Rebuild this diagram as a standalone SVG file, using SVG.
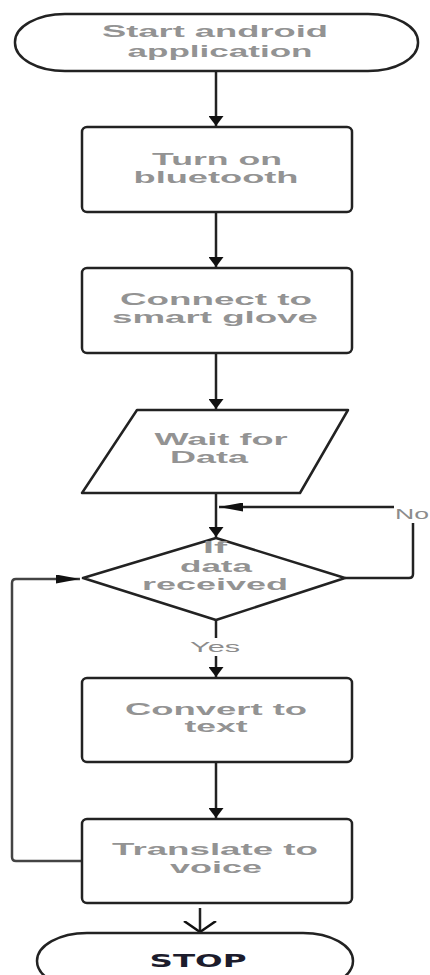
<svg xmlns="http://www.w3.org/2000/svg" width="430" height="975" viewBox="0 0 430 975">
  <style>
    .shape { fill: #ffffff; stroke: #222222; stroke-width: 2.5; stroke-linejoin: round; }
    .lbl { font-family: "Liberation Sans", Arial, sans-serif; font-size: 17px; font-weight: bold; fill: #939393; text-anchor: middle; }
    .edge { fill: none; stroke: #222222; stroke-width: 2.5; stroke-linejoin: round; }
    .loop { fill: none; stroke: #444444; stroke-width: 2.5; stroke-linejoin: round; }
    .elbl { font-family: "Liberation Sans", Arial, sans-serif; font-size: 14px; fill: #8c8c8c; text-anchor: middle; }
    .stop { font-family: "DejaVu Sans", "Liberation Sans", sans-serif; font-size: 18px; font-weight: bold; fill: #1c1c2c; text-anchor: middle; }
  </style>
  <defs>
    <marker id="ahV" markerUnits="userSpaceOnUse" viewBox="0 0 10 15" refX="10" refY="7.5" markerWidth="10" markerHeight="15" orient="auto">
      <path d="M0,0 L10,7.5 L0,15 Z" fill="#111111"/>
    </marker>
    <marker id="ahH" markerUnits="userSpaceOnUse" viewBox="0 0 24 9" refX="24" refY="4.5" markerWidth="24" markerHeight="9" orient="auto">
      <path d="M0,0 L24,4.5 L0,9 Z" fill="#111111"/>
    </marker>
    <marker id="ahOpen" markerUnits="userSpaceOnUse" viewBox="0 0 12 34" refX="11" refY="17" markerWidth="12" markerHeight="34" orient="auto">
      <path d="M0,1 L11,17 L0,33" fill="none" stroke="#111111" stroke-width="2.5"/>
    </marker>
  </defs>
  <rect width="430" height="975" fill="#ffffff"/>

  <g id="connectors">
    <line class="edge" x1="216" y1="71" x2="216" y2="126" marker-end="url(#ahV)"/>
    <line class="edge" x1="216" y1="212" x2="216" y2="267" marker-end="url(#ahV)"/>
    <line class="edge" x1="216" y1="353" x2="216" y2="409" marker-end="url(#ahV)"/>
    <line class="edge" x1="216" y1="493" x2="216" y2="537" marker-end="url(#ahV)"/>
    <path class="edge" d="M345,578 L409,578 Q413,578 413,574 L413,523"/>
    <line class="edge" x1="394" y1="507" x2="219" y2="507" marker-end="url(#ahH)"/>
    <text class="elbl" x="412" y="519" textLength="34" lengthAdjust="spacingAndGlyphs">No</text>
    <line class="edge" x1="216" y1="620" x2="216" y2="677" marker-end="url(#ahV)"/>
    <rect x="188" y="638" width="54" height="18" fill="#ffffff"/>
    <text class="elbl" x="215" y="652" textLength="50" lengthAdjust="spacingAndGlyphs">Yes</text>
    <line class="edge" x1="216" y1="762" x2="216" y2="818" marker-end="url(#ahV)"/>
    <path class="loop" d="M82,861 L16,861 Q12,861 12,857 L12,583 Q12,579 16,579 L80,579" marker-end="url(#ahH)"/>
    <line class="edge" x1="200" y1="908" x2="200" y2="932" marker-end="url(#ahOpen)"/>
  </g>

  <g id="start">
    <rect class="shape" x="15" y="14" width="403" height="57" rx="50" ry="28"/>
    <text class="lbl" x="215" y="37" textLength="226" lengthAdjust="spacingAndGlyphs">Start android</text>
    <text class="lbl" x="220" y="57" textLength="185" lengthAdjust="spacingAndGlyphs">application</text>
  </g>

  <g id="bluetooth">
    <rect class="shape" x="82" y="127" width="270" height="85" rx="5"/>
    <text class="lbl" x="217" y="165" textLength="130" lengthAdjust="spacingAndGlyphs">Turn on</text>
    <text class="lbl" x="216" y="183" textLength="165" lengthAdjust="spacingAndGlyphs">bluetooth</text>
  </g>

  <g id="connect">
    <rect class="shape" x="82" y="268" width="270" height="85" rx="5"/>
    <text class="lbl" x="216" y="305" textLength="192" lengthAdjust="spacingAndGlyphs">Connect to</text>
    <text class="lbl" x="215" y="323" textLength="206" lengthAdjust="spacingAndGlyphs">smart glove</text>
  </g>

  <g id="wait">
    <path class="shape" d="M137,410 L348,410 L300,493 L82,493 Z"/>
    <text class="lbl" x="221" y="445" textLength="133" lengthAdjust="spacingAndGlyphs">Wait for</text>
    <text class="lbl" x="209" y="463" textLength="78" lengthAdjust="spacingAndGlyphs">Data</text>
  </g>

  <g id="decision">
    <path class="shape" d="M83,578 L216,538 L345,578 L216,620 Z"/>
    <text class="lbl" x="215" y="553" textLength="24" lengthAdjust="spacingAndGlyphs">If</text>
    <text class="lbl" x="216" y="572" textLength="72" lengthAdjust="spacingAndGlyphs">data</text>
    <text class="lbl" x="215" y="590" textLength="146" lengthAdjust="spacingAndGlyphs">received</text>
  </g>

  <g id="convert">
    <rect class="shape" x="82" y="678" width="270" height="84" rx="5"/>
    <text class="lbl" x="216" y="715" textLength="182" lengthAdjust="spacingAndGlyphs">Convert to</text>
    <text class="lbl" x="216" y="732" textLength="63" lengthAdjust="spacingAndGlyphs">text</text>
  </g>

  <g id="translate">
    <rect class="shape" x="82" y="819" width="270" height="84" rx="5"/>
    <text class="lbl" x="215" y="855" textLength="206" lengthAdjust="spacingAndGlyphs">Translate to</text>
    <text class="lbl" x="216" y="873" textLength="92" lengthAdjust="spacingAndGlyphs">voice</text>
  </g>

  <g id="stop">
    <rect class="shape" x="37" y="933" width="316" height="56" rx="50" ry="28"/>
    <text class="stop" x="198" y="967" textLength="97" lengthAdjust="spacingAndGlyphs">STOP</text>
  </g>
</svg>
